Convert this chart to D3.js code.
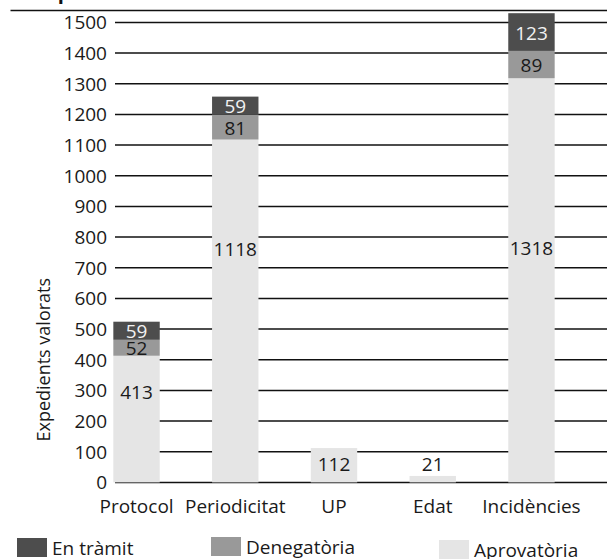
<!DOCTYPE html>
<html>
<head>
<meta charset="utf-8">
<script src="https://cdn.jsdelivr.net/npm/d3@7"></script>
<style>
  html, body { margin: 0; padding: 0; background: #fff; }
  svg { display: block; font-family: "Open Sans", "Noto Sans", sans-serif; }
</style>
</head>
<body>
<svg id="chart" width="607" height="559"></svg>
<script>
// ---- data ----
const categories = ["Protocol", "Periodicitat", "UP", "Edat", "Incidències"];
const aprovatoria = [413, 1118, 112, 21, 1318];
const denegatoria = [52, 81, 0, 0, 89];
const enTramit = [59, 59, 0, 0, 123];
const seriesNames = ["Aprovatòria", "Denegatòria", "En tràmit"];
const yTicks = [0, 100, 200, 300, 400, 500, 600, 700, 800, 900, 1000, 1100, 1200, 1300, 1400, 1500];
const yLabel = "Expedients valorats";
const titleText = "Expedients";

// ---- style ----
const colors = { "Aprovatòria": "#e5e5e5", "Denegatòria": "#999999", "En tràmit": "#4d4d4d" };
const textColors = { "Aprovatòria": "#1a1a1a", "Denegatòria": "#1a1a1a", "En tràmit": "#f2f2f2" };

const svg = d3.select("#chart");
const W = 607, H = 559;

const rows = categories.map((c, i) => ({
  cat: c,
  "Aprovatòria": aprovatoria[i],
  "Denegatòria": denegatoria[i],
  "En tràmit": enTramit[i]
}));
const stacked = d3.stack().keys(seriesNames)(rows);

const x = d3.scaleBand().domain(categories).range([61, 607]).padding(0.53);
const y = d3.scaleLinear().domain([0, 1500]).range([482.4, 22.4]);

// title (mostly clipped off the top) and its rule
svg.append("text").attr("x", 35).attr("y", -1.5)
  .attr("font-size", 20).attr("font-weight", "bold").attr("fill", "#111")
  .text(titleText);
svg.append("line").attr("x1", 10.5).attr("x2", W).attr("y1", 10.5).attr("y2", 10.5)
  .attr("stroke", "#111").attr("stroke-width", 1.4);

// gridlines + tick labels
const grid = svg.append("g");
grid.selectAll("line").data(yTicks).join("line")
  .attr("x1", 115).attr("x2", W)
  .attr("y1", d => y(d)).attr("y2", d => y(d))
  .attr("stroke", "#111").attr("stroke-width", 1.5);
grid.selectAll("text").data(yTicks).join("text")
  .attr("x", 107).attr("y", d => y(d))
  .attr("dy", "0.36em").attr("text-anchor", "end")
  .attr("font-size", 19).attr("fill", "#1a1a1a")
  .text(d => d);

// y axis title
svg.append("text")
  .attr("transform", `translate(50,${y(400)}) rotate(-90)`)
  .attr("text-anchor", "middle").attr("font-size", 18).attr("fill", "#1a1a1a")
  .text(yLabel);

// bars
const layers = svg.append("g").selectAll("g").data(stacked).join("g")
  .attr("fill", d => colors[d.key]);
layers.selectAll("rect").data(d => d.filter(s => s[1] - s[0] > 0)).join("rect")
  .attr("x", d => x(d.data.cat))
  .attr("width", x.bandwidth())
  .attr("y", d => y(d[1]))
  .attr("height", d => y(d[0]) - y(d[1]));

// labels
stacked.forEach(layer => {
  const g = svg.append("g");
  layer.forEach(s => {
    const v = s[1] - s[0];
    if (v <= 0) return;
    let ly, dy;
    if (layer.key === "Aprovatòria") {
      const lv = v < 150 ? 37 : Math.min(v * 0.66, 740);
      ly = y(lv); dy = "0";
    } else {
      ly = y((s[0] + s[1]) / 2); dy = "0.4em";
    }
    g.append("text")
      .attr("x", x(s.data.cat) + x.bandwidth() / 2)
      .attr("y", ly).attr("dy", dy)
      .attr("text-anchor", "middle").attr("font-size", 19)
      .attr("fill", textColors[layer.key])
      .text(v);
  });
});

// category labels
svg.append("g").selectAll("text").data(categories).join("text")
  .attr("x", d => x(d) + x.bandwidth() / 2)
  .attr("y", 513)
  .attr("text-anchor", "middle").attr("font-size", 19).attr("fill", "#1a1a1a")
  .text(d => d);

// legend
const legendItems = [
  { key: "En tràmit", x: 17, y: 538 },
  { key: "Denegatòria", x: 211, y: 537 },
  { key: "Aprovatòria", x: 439, y: 540 }
];
const lg = svg.append("g").selectAll("g").data(legendItems).join("g")
  .attr("transform", d => `translate(${d.x},${d.y})`);
lg.append("rect").attr("width", 30).attr("height", 19).attr("fill", d => colors[d.key]);
lg.append("text").attr("x", 35).attr("y", 17)
  .attr("font-size", 19).attr("fill", "#1a1a1a").text(d => d.key);
</script>
</body>
</html>
